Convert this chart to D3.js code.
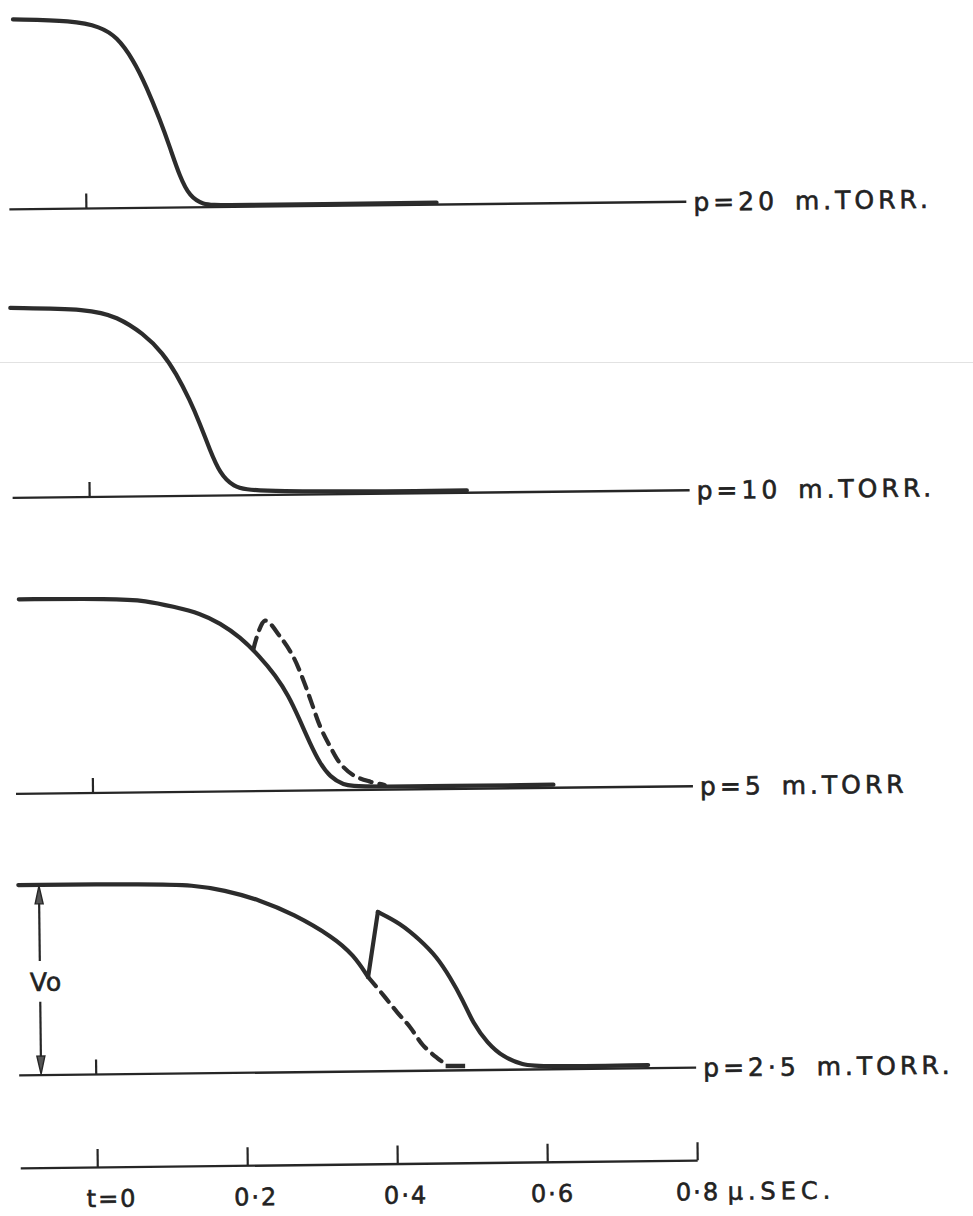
<!DOCTYPE html>
<html><head><meta charset="utf-8">
<script src="https://cdn.jsdelivr.net/npm/d3@7"></script>
<style>
html,body{margin:0;padding:0;background:#fff;}
svg{display:block;}
text{font-family:"DejaVu Sans","Liberation Sans",sans-serif;fill:#222;stroke:#222;stroke-width:0.6px;}
</style></head><body>
<svg id="chart" width="973" height="1216"></svg>
<script>
// ---------------- data ----------------
const timeTicks = [0, 0.2, 0.4, 0.6, 0.8];
const timeTickLabels = ["t=0", "0·2", "0·4", "0·6", "0·8"];
const timeUnit = "µ.SEC.";
const pressureLabels = ["p=20 m.TORR.", "p=10 m.TORR.", "p=5 m.TORR", "p=2·5 m.TORR."];
const amplitudeLabel = "Vo";

// [time (µs), V / Vo]
const p20 = [[-0.095,1.0],[-0.015,0.99],[0.021,0.956],[0.043,0.903],[0.065,0.779],[0.082,0.637],[0.0995,0.462],[0.112,0.321],[0.125,0.162],[0.138,0.056],[0.156,0.014],[0.174,0.008],[0.467,0.01]];
const p10 = [[-0.103,1.0],[0.003,0.99],[0.039,0.947],[0.074,0.858],[0.1,0.752],[0.117,0.646],[0.135,0.505],[0.148,0.381],[0.161,0.24],[0.174,0.117],[0.191,0.046],[0.218,0.014],[0.503,0.012]];
const p5 = [[-0.096,1.0],[0.03,0.998],[0.074,0.986],[0.11,0.953],[0.146,0.917],[0.172,0.865],[0.198,0.795],[0.224,0.694],[0.245,0.594],[0.262,0.49],[0.276,0.37],[0.29,0.243],[0.303,0.139],[0.316,0.07],[0.334,0.026],[0.352,0.014],[0.614,0.016]];
const p5Dashed = [[0.216,0.73],[0.232,0.876],[0.252,0.792],[0.269,0.689],[0.282,0.569],[0.293,0.448],[0.304,0.327],[0.317,0.224],[0.33,0.138],[0.347,0.077],[0.37,0.042],[0.389,0.024]];
const p25Before = [[-0.101,1.0],[0.08,0.998],[0.132,0.989],[0.173,0.962],[0.221,0.907],[0.265,0.832],[0.318,0.708],[0.345,0.612],[0.364,0.496]];
const p25After = [[0.378,0.837],[0.407,0.778],[0.434,0.687],[0.456,0.597],[0.473,0.491],[0.49,0.369],[0.503,0.248],[0.522,0.142],[0.543,0.067],[0.569,0.024],[0.592,0.014],[0.736,0.017]];
const p25Dashed = [[0.364,0.496],[0.384,0.40],[0.402,0.31],[0.419,0.231],[0.436,0.135],[0.455,0.066],[0.468,0.028]];
const p25DashTail = [[0.466,0.024],[0.492,0.022]];

// ---------------- layout ----------------
const W = 973, H = 1216;
const panelTop  = [19.5, 308, 599.5, 885.2];
const panelBase = [209.5, 498, 794, 1075.5];
const axisY = 1168;
const tiltDeg = -0.65;
const ink = "#262626";
const trace = "#2c2c2c";

const svg = d3.select("#chart");
svg.append("rect").attr("width", W).attr("height", H).attr("fill", "#fff");
// faint scan line
svg.append("line").attr("x1", 0).attr("x2", W).attr("y1", 362.5).attr("y2", 362.5)
  .attr("stroke", "#e2e2e2").attr("stroke-width", 1);

const g = svg.append("g").attr("transform", `rotate(${tiltDeg})`);

const x = d3.scaleLinear().domain([-0.1027, 0.8]).range([7, 684]);

const panels = [
  {solid: [p20], dashed: [], tail: []},
  {solid: [p10], dashed: [], tail: []},
  {solid: [p5], dashed: [p5Dashed], tail: []},
  {solid: [p25Before, p25After], dashed: [p25Dashed], tail: [p25DashTail]}
];

panels.forEach((p, i) => {
  const y = d3.scaleLinear().domain([0, 1]).range([panelBase[i], panelTop[i]]);
  const smooth = d3.line().x(d => x(d[0])).y(d => y(d[1])).curve(d3.curveBasis);
  const through = d3.line().x(d => x(d[0])).y(d => y(d[1])).curve(d3.curveCatmullRom.alpha(0.5));
  const straight = d3.line().x(d => x(d[0])).y(d => y(d[1]));
  const pg = g.append("g");
  // baseline
  pg.append("line").attr("x1", x.range()[0]).attr("x2", x(0.8))
    .attr("y1", y(0)).attr("y2", y(0))
    .attr("stroke", ink).attr("stroke-width", 2.4);
  // t=0 tick
  pg.append("line").attr("x1", x(0)).attr("x2", x(0))
    .attr("y1", y(0)).attr("y2", y(0) - 15)
    .attr("stroke", ink).attr("stroke-width", 2.2);
  // solid trace(s)
  p.solid.forEach(s => {
    pg.append("path").attr("d", smooth(s)).attr("fill", "none")
      .attr("stroke", trace).attr("stroke-width", 4.2)
      .attr("stroke-linecap", "round").attr("stroke-linejoin", "round");
  });
  if (p.solid.length === 2) {
    const a = p.solid[0][p.solid[0].length - 1], b = p.solid[1][0];
    pg.append("path").attr("d", straight([a, b]))
      .attr("fill", "none").attr("stroke", trace).attr("stroke-width", 4.2)
      .attr("stroke-linecap", "round");
  }
  p.dashed.forEach(s => {
    pg.append("path").attr("d", through(s)).attr("fill", "none")
      .attr("stroke", trace).attr("stroke-width", 4.2)
      .attr("stroke-dasharray", "12,8").attr("stroke-linecap", "round");
  });
  p.tail.forEach(s => {
    pg.append("path").attr("d", straight(s))
      .attr("fill", "none").attr("stroke", trace).attr("stroke-width", 4.5);
  });
  // label
  pg.append("text").attr("x", x(0.8) + 7).attr("y", y(0) + 9)
    .attr("font-size", 25).attr("letter-spacing", 4).attr("word-spacing", 5)
    .text(pressureLabels[i]);

  if (i === 3) {
    // Vo dimension arrow
    const ax = x(-0.0735);
    const arrowHead = (tipY, dir) => {
      const L = 18, hw = 4;
      return `M${ax},${tipY} L${ax - hw},${tipY + dir * L} L${ax + hw},${tipY + dir * L} Z`;
    };
    pg.append("line").attr("x1", ax).attr("x2", ax).attr("y1", y(1) + 10).attr("y2", y(0.6))
      .attr("stroke", ink).attr("stroke-width", 2.2);
    pg.append("line").attr("x1", ax).attr("x2", ax).attr("y1", y(0.386)).attr("y2", y(0) - 10)
      .attr("stroke", ink).attr("stroke-width", 2.2);
    pg.append("path").attr("d", arrowHead(y(1) + 1, 1)).attr("fill", "#555").attr("stroke", ink).attr("stroke-width", 1.4);
    pg.append("path").attr("d", arrowHead(y(0) - 1, -1)).attr("fill", "#555").attr("stroke", ink).attr("stroke-width", 1.4);
    pg.append("text").attr("x", ax + 6).attr("y", y(0.49) + 9)
      .attr("text-anchor", "middle").attr("font-size", 25).attr("letter-spacing", 1)
      .text(amplitudeLabel);
  }
});

// ---------------- time axis ----------------
const labelDx = [14, 8, 8, 5, 0];
const axis = d3.axisBottom(x).tickValues(timeTicks).tickSize(-18).tickSizeOuter(0)
  .tickFormat((d, i) => timeTickLabels[i]);
const ag = g.append("g").attr("transform", `translate(0,${axisY})`).call(axis);
ag.select(".domain").attr("stroke", ink).attr("stroke-width", 2.4);
ag.selectAll(".tick line").attr("stroke", ink).attr("stroke-width", 2.2);
ag.selectAll(".tick text")
  .attr("font-family", "DejaVu Sans, Liberation Sans, sans-serif")
  .attr("font-size", 24).attr("fill", "#222").attr("letter-spacing", 2)
  .attr("y", 23).attr("dx", (d, i) => labelDx[i]);
ag.append("text").attr("x", x(0.8) + 30).attr("y", 23).attr("dy", "0.71em")
  .attr("text-anchor", "start")
  .attr("font-size", 24).attr("letter-spacing", 5).attr("fill", "#222")
  .attr("font-family", "DejaVu Sans, Liberation Sans, sans-serif")
  .text(timeUnit);
</script>
</body></html>
